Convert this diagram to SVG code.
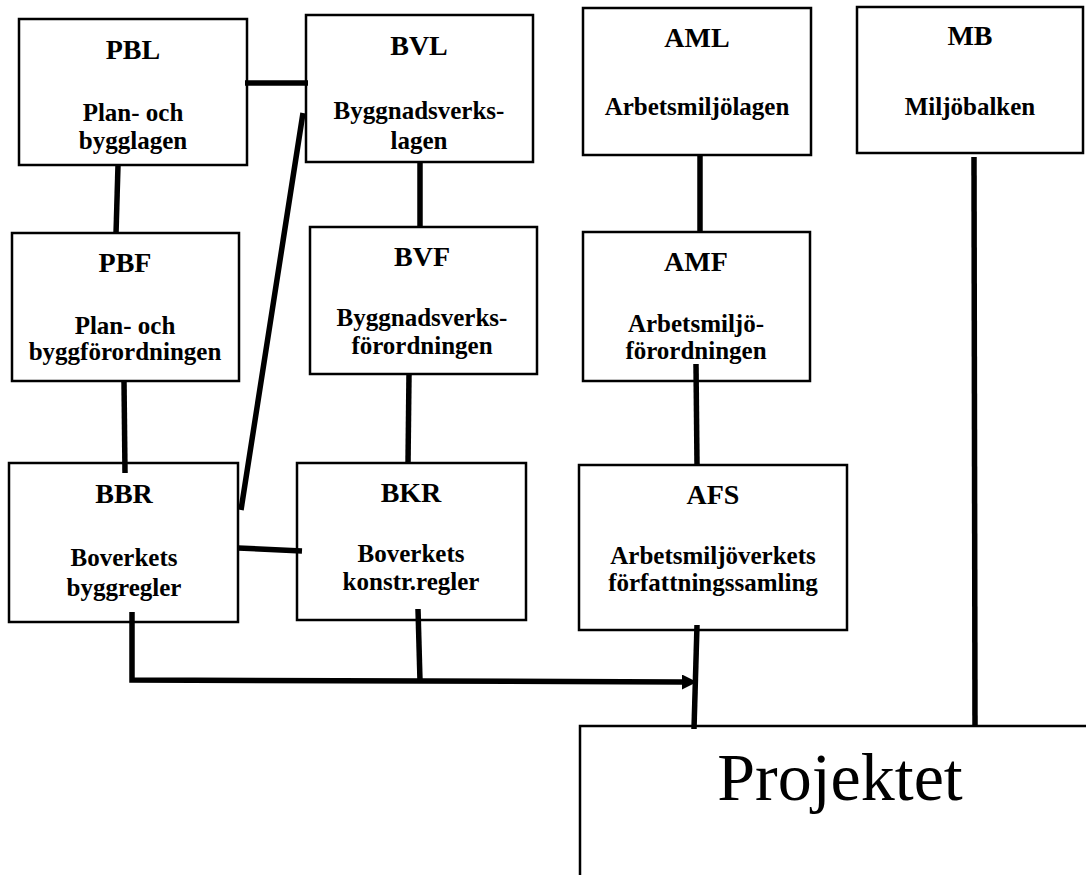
<svg xmlns="http://www.w3.org/2000/svg" width="1086" height="875" viewBox="0 0 1086 875">
<style>
.box{fill:#fff;stroke:#000;stroke-width:2.5}
.t{font-family:"Liberation Serif","Times New Roman",serif;font-weight:bold;font-size:28px;text-anchor:middle;fill:#000}
.s{font-family:"Liberation Serif","Times New Roman",serif;font-weight:bold;font-size:25px;text-anchor:middle;fill:#000}
.big{font-family:"Liberation Serif","Times New Roman",serif;font-size:68px;text-anchor:middle;fill:#000}
.c{fill:none;stroke:#000;stroke-width:5.5;stroke-linecap:butt;stroke-linejoin:miter}
</style>
<defs>
<marker id="arrow" markerUnits="userSpaceOnUse" markerWidth="16" markerHeight="16" refX="0" refY="7.5" orient="auto">
<path d="M0,0 L15,7.5 L0,15 z" fill="#000"/>
</marker>
</defs>
<rect width="1086" height="875" fill="#fff"/>
<g id="PBL"><rect class="box" x="19" y="19" width="228" height="146"/><text class="t" x="133" y="59">PBL</text><text class="s" x="133" y="121">Plan- och</text><text class="s" x="133" y="149">bygglagen</text></g>
<g id="BVL"><rect class="box" x="306" y="15" width="227" height="147"/><text class="t" x="419" y="55">BVL</text><text class="s" x="419" y="119">Byggnadsverks-</text><text class="s" x="419" y="149">lagen</text></g>
<g id="AML"><rect class="box" x="583" y="8" width="228" height="147"/><text class="t" x="697" y="47">AML</text><text class="s" x="697" y="115">Arbetsmiljölagen</text></g>
<g id="MB"><rect class="box" x="857" y="7" width="226" height="146"/><text class="t" x="970" y="45">MB</text><text class="s" x="970" y="115">Miljöbalken</text></g>
<g id="PBF"><rect class="box" x="12" y="233" width="227" height="148"/><text class="t" x="125" y="272">PBF</text><text class="s" x="125" y="334">Plan- och</text><text class="s" x="125" y="360">byggförordningen</text></g>
<g id="BVF"><rect class="box" x="310" y="227" width="227" height="147"/><text class="t" x="422" y="266">BVF</text><text class="s" x="422" y="326">Byggnadsverks-</text><text class="s" x="422" y="354">förordningen</text></g>
<g id="AMF"><rect class="box" x="583" y="232" width="227" height="149"/><text class="t" x="696" y="271">AMF</text><text class="s" x="696" y="332">Arbetsmiljö-</text><text class="s" x="696" y="359">förordningen</text></g>
<g id="BBR"><rect class="box" x="9" y="463" width="229" height="159"/><text class="t" x="124" y="503">BBR</text><text class="s" x="124" y="566">Boverkets</text><text class="s" x="124" y="596">byggregler</text></g>
<g id="BKR"><rect class="box" x="297" y="463" width="229" height="157"/><text class="t" x="411" y="502">BKR</text><text class="s" x="411" y="562">Boverkets</text><text class="s" x="411" y="590">konstr.regler</text></g>
<g id="AFS"><rect class="box" x="579" y="465" width="268" height="165"/><text class="t" x="713" y="504">AFS</text><text class="s" x="713" y="564">Arbetsmiljöverkets</text><text class="s" x="713" y="591">författningssamling</text></g>
<g id="Projektet"><rect class="box" x="580" y="726" width="530" height="170"/><text class="big" x="840" y="800">Projektet</text></g>
<g id="connectors">
<line class="c" x1="245" y1="83" x2="308" y2="83"/>
<line class="c" x1="303" y1="113" x2="241" y2="510"/>
<line class="c" x1="118" y1="165" x2="116" y2="234"/>
<line class="c" x1="420" y1="162" x2="420" y2="228"/>
<line class="c" x1="124" y1="381" x2="125" y2="473"/>
<line class="c" x1="409" y1="374" x2="408" y2="464"/>
<line class="c" x1="238" y1="548" x2="302" y2="551"/>
<path class="c" d="M132,612 V680 L682,682" marker-end="url(#arrow)"/>
<line class="c" x1="418" y1="609" x2="420" y2="681"/>
<line class="c" x1="697" y1="625" x2="694" y2="729"/>
<line class="c" x1="700" y1="155" x2="700" y2="232"/>
<line class="c" x1="696" y1="364" x2="697" y2="465"/>
<line class="c" x1="974" y1="157" x2="975" y2="726"/>
</g>
</svg>
